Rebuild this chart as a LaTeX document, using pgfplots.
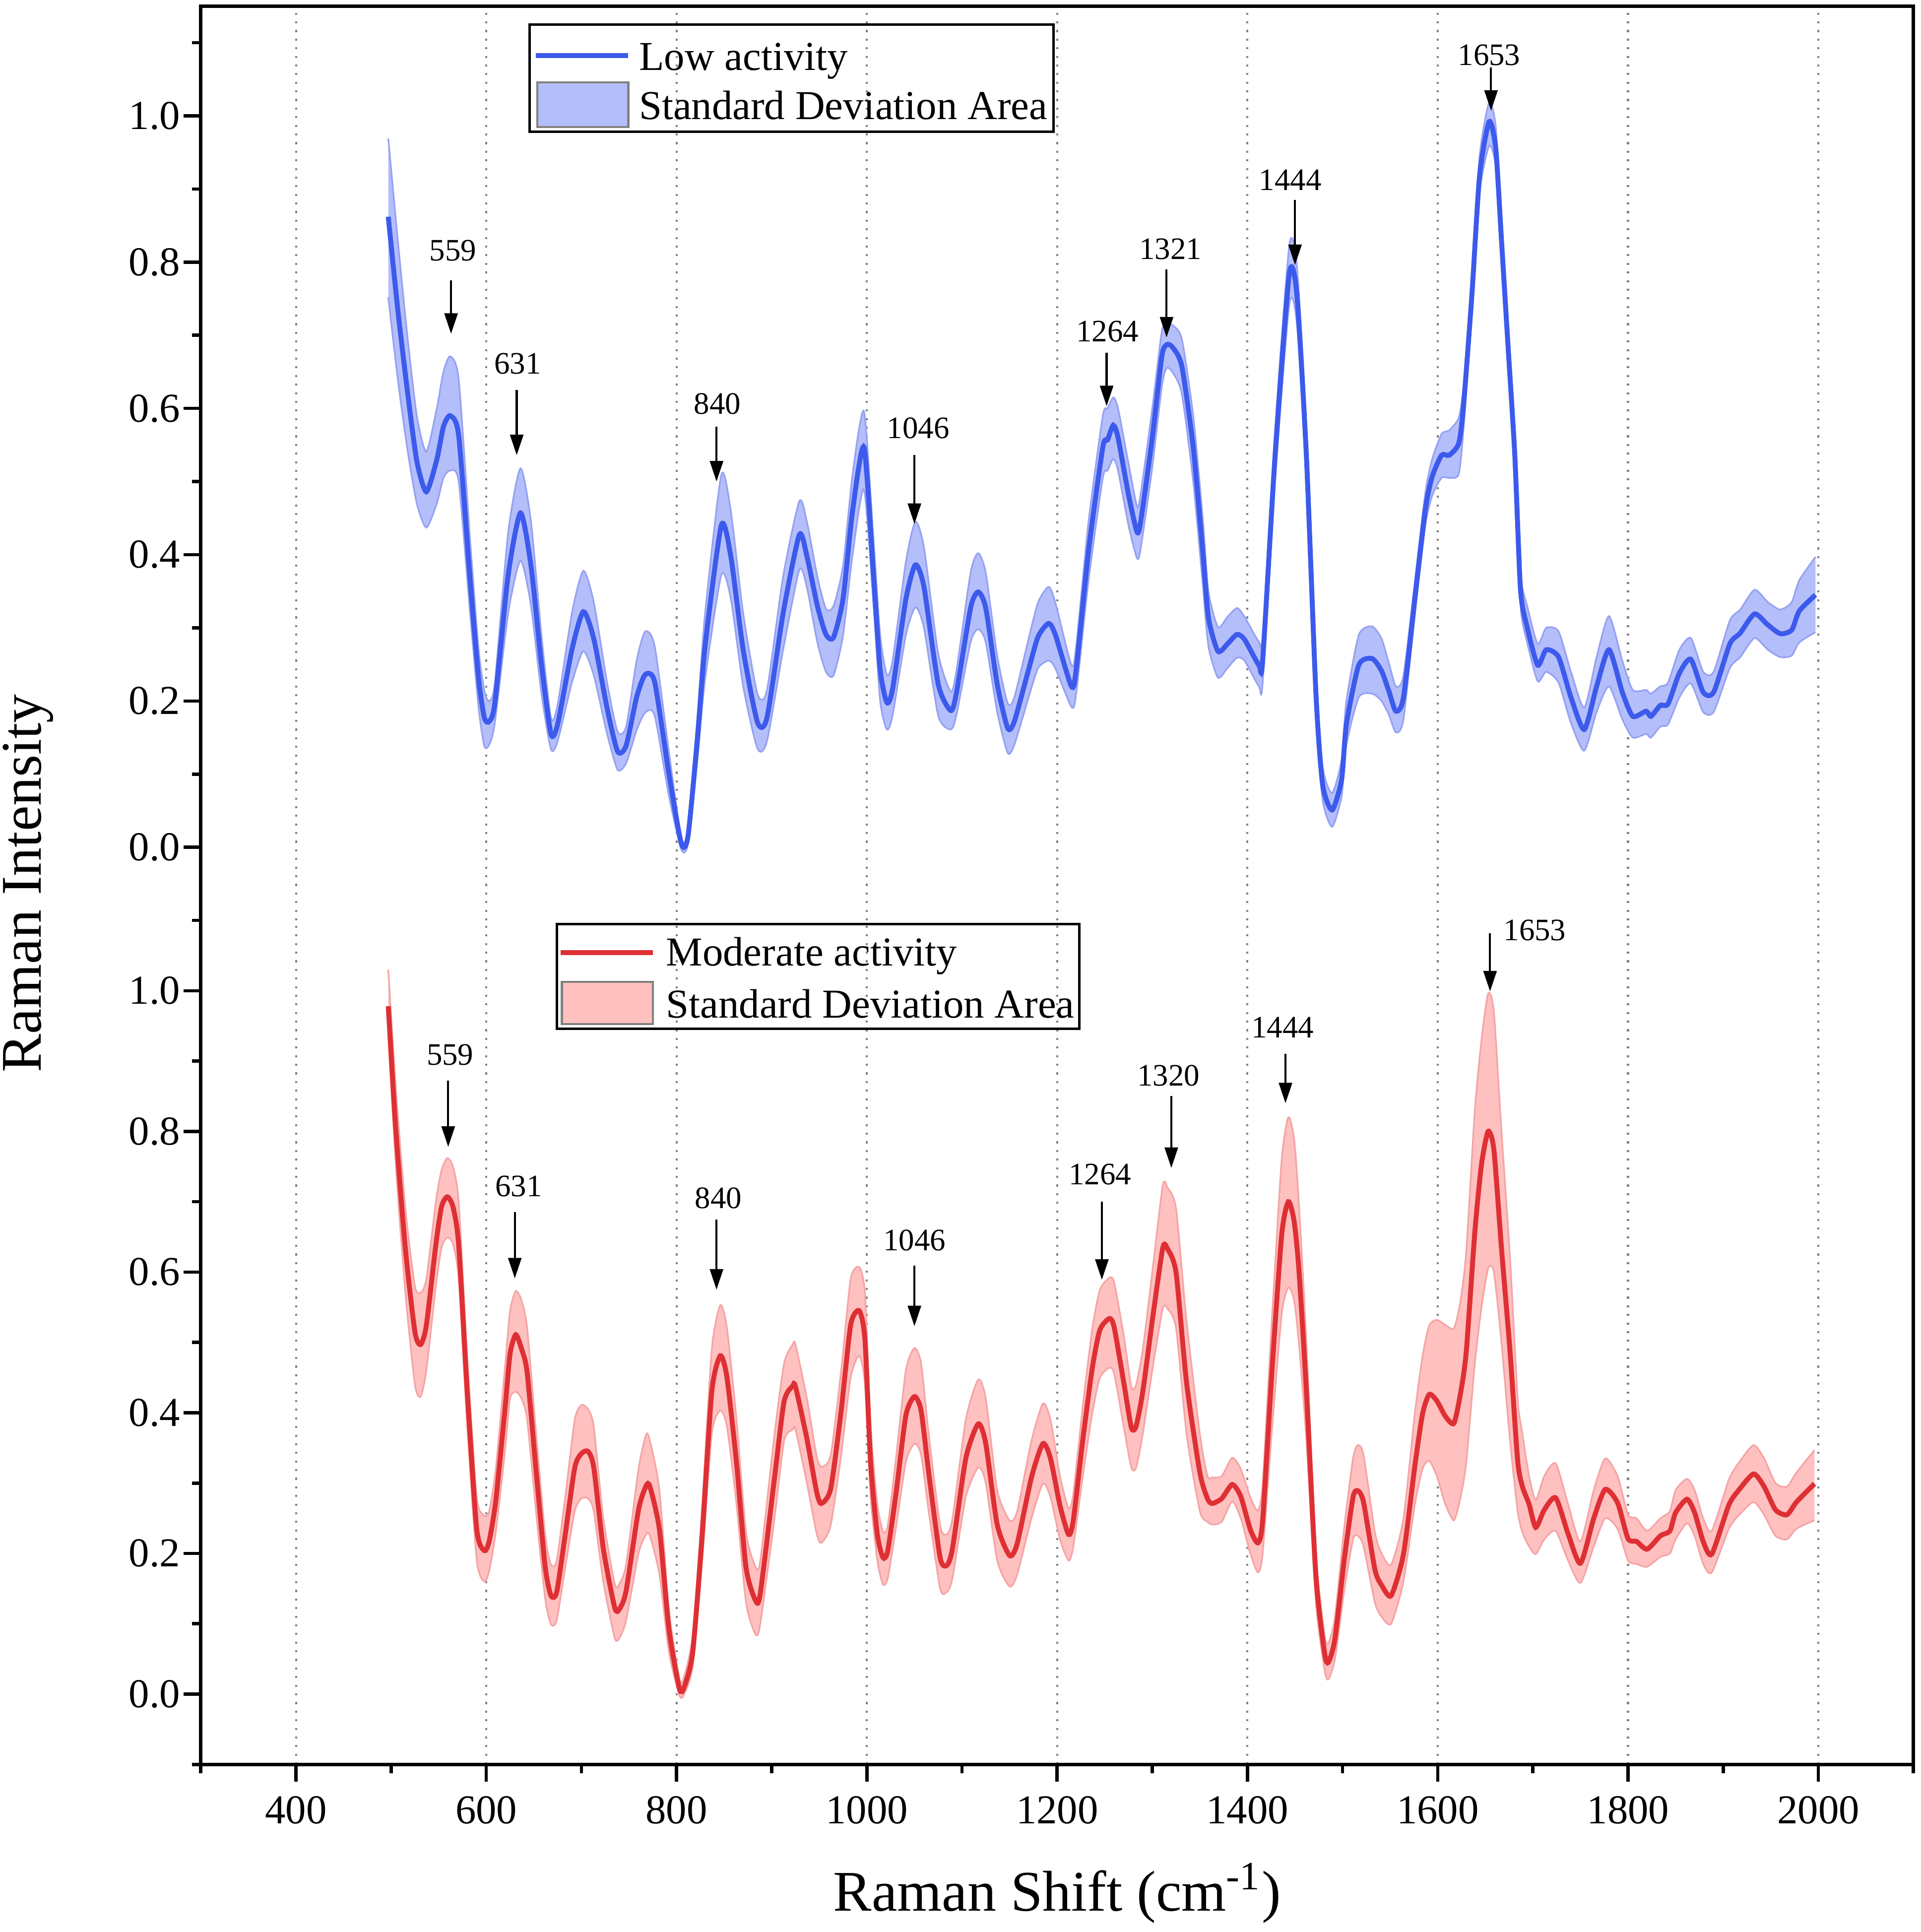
\documentclass[border=0pt]{standalone}
\usepackage{fontspec}
\setmainfont{Liberation Serif}
\usepackage{pgfplots}
\usepackage{pgfplotstable}
\pgfplotsset{compat=1.18}
\usepgfplotslibrary{fillbetween}
\usetikzlibrary{arrows.meta}

\definecolor{bline}{RGB}{60,90,235}
\definecolor{bfill}{RGB}{180,190,250}
\definecolor{bedge}{RGB}{150,162,242}
\definecolor{rline}{RGB}{222,48,52}
\definecolor{rfill}{RGB}{255,192,192}
\definecolor{redge}{RGB}{245,165,165}

\pgfplotstableread{
x y lo hi
497 0.862 0.752 0.969
507 0.735 0.640 0.830
517 0.625 0.545 0.700
527 0.528 0.470 0.590
537 0.486 0.437 0.541
548 0.530 0.470 0.600
555 0.575 0.505 0.650
562 0.590 0.515 0.671
571 0.563 0.500 0.640
583 0.366 0.320 0.420
592 0.230 0.190 0.270
598 0.177 0.138 0.214
603 0.172 0.140 0.200
609 0.197 0.170 0.225
623 0.372 0.320 0.430
636 0.457 0.392 0.518
647 0.385 0.330 0.445
658 0.250 0.210 0.290
668 0.155 0.134 0.177
675 0.168 0.145 0.195
690 0.270 0.225 0.320
702 0.322 0.268 0.378
713 0.285 0.235 0.335
727 0.190 0.155 0.225
738 0.131 0.106 0.158
747 0.139 0.115 0.165
758 0.205 0.160 0.255
767 0.236 0.184 0.295
777 0.226 0.180 0.275
792 0.100 0.070 0.130
805 0.005 -0.003 0.012
812 0.015 0.005 0.025
822 0.150 0.120 0.180
830 0.275 0.230 0.320
847 0.440 0.372 0.509
857 0.398 0.340 0.460
870 0.270 0.220 0.320
885 0.171 0.135 0.210
895 0.177 0.145 0.215
912 0.320 0.270 0.370
929 0.427 0.379 0.473
937 0.398 0.355 0.445
948 0.330 0.280 0.370
957 0.291 0.240 0.326
965 0.287 0.235 0.330
975 0.340 0.290 0.385
985 0.460 0.400 0.510
997 0.547 0.489 0.596
1007 0.372 0.330 0.420
1014 0.243 0.200 0.290
1021 0.198 0.161 0.236
1027 0.216 0.180 0.255
1041 0.339 0.290 0.390
1051 0.386 0.328 0.445
1060 0.356 0.300 0.410
1075 0.223 0.180 0.265
1088 0.187 0.161 0.213
1094 0.210 0.180 0.240
1109 0.327 0.280 0.375
1117 0.349 0.298 0.402
1125 0.327 0.280 0.375
1137 0.223 0.185 0.262
1148 0.163 0.129 0.197
1155 0.172 0.140 0.205
1170 0.243 0.205 0.285
1180 0.288 0.245 0.335
1191 0.306 0.255 0.356
1198 0.291 0.245 0.335
1215 0.220 0.192 0.249
1220 0.243 0.210 0.275
1233 0.405 0.365 0.445
1248 0.547 0.505 0.590
1253 0.557 0.515 0.600
1259 0.577 0.531 0.615
1264 0.560 0.515 0.600
1275 0.482 0.440 0.525
1284 0.431 0.395 0.466
1288 0.447 0.410 0.485
1300 0.560 0.520 0.600
1310 0.671 0.630 0.705
1315 0.687 0.655 0.716
1321 0.684 0.650 0.714
1331 0.658 0.620 0.695
1343 0.547 0.500 0.590
1353 0.405 0.360 0.450
1359 0.314 0.275 0.350
1369 0.268 0.232 0.301
1379 0.278 0.245 0.315
1389 0.291 0.259 0.327
1397 0.284 0.255 0.315
1412 0.249 0.220 0.281
1416 0.255 0.225 0.290
1429 0.534 0.500 0.570
1444 0.784 0.742 0.823
1452 0.755 0.715 0.795
1462 0.534 0.500 0.570
1472 0.210 0.185 0.235
1479 0.086 0.065 0.110
1489 0.051 0.028 0.074
1499 0.093 0.070 0.120
1504 0.168 0.140 0.200
1517 0.249 0.205 0.290
1531 0.258 0.210 0.302
1541 0.241 0.200 0.285
1549 0.212 0.180 0.250
1556 0.186 0.157 0.220
1564 0.205 0.175 0.235
1577 0.352 0.330 0.375
1587 0.462 0.440 0.485
1594 0.506 0.480 0.530
1604 0.536 0.505 0.565
1612 0.536 0.505 0.570
1622 0.552 0.510 0.587
1627 0.602 0.570 0.630
1636 0.757 0.735 0.780
1644 0.918 0.895 0.945
1654 0.992 0.959 1.018
1661 0.955 0.930 0.985
1667 0.830 0.805 0.855
1674 0.683 0.660 0.705
1681 0.536 0.515 0.560
1687 0.352 0.330 0.375
1694 0.301 0.280 0.330
1705 0.249 0.227 0.278
1714 0.270 0.240 0.300
1727 0.260 0.225 0.295
1740 0.205 0.170 0.240
1754 0.161 0.132 0.191
1767 0.220 0.185 0.260
1780 0.270 0.220 0.316
1794 0.212 0.175 0.255
1805 0.179 0.150 0.215
1819 0.186 0.155 0.215
1824 0.179 0.150 0.210
1834 0.194 0.165 0.220
1842 0.196 0.168 0.225
1854 0.238 0.205 0.270
1866 0.257 0.224 0.286
1879 0.212 0.185 0.240
1890 0.212 0.185 0.240
1907 0.278 0.245 0.310
1918 0.293 0.260 0.325
1933 0.319 0.286 0.352
1947 0.304 0.270 0.335
1960 0.292 0.260 0.325
1972 0.297 0.262 0.335
1980 0.323 0.280 0.365
1997 0.345 0.294 0.397
}\topdata

\pgfplotstableread{
x y lo hi
497 0.978 0.936 1.030
505 0.801 0.750 0.860
515 0.633 0.570 0.690
525 0.515 0.440 0.580
531 0.497 0.423 0.571
537 0.524 0.460 0.590
547 0.639 0.580 0.700
553 0.693 0.635 0.745
559 0.707 0.649 0.762
565 0.693 0.640 0.750
571 0.639 0.590 0.700
580 0.430 0.380 0.480
590 0.234 0.190 0.280
598 0.204 0.160 0.254
603 0.217 0.175 0.260
610 0.275 0.230 0.320
620 0.410 0.350 0.470
625 0.484 0.420 0.545
631 0.511 0.430 0.573
637 0.491 0.420 0.560
643 0.457 0.390 0.520
653 0.308 0.250 0.360
662 0.180 0.135 0.225
668 0.140 0.099 0.184
674 0.145 0.105 0.190
683 0.227 0.180 0.280
693 0.322 0.260 0.390
700 0.342 0.278 0.411
707 0.345 0.278 0.405
713 0.322 0.260 0.380
723 0.207 0.160 0.250
735 0.123 0.080 0.157
740 0.121 0.080 0.157
747 0.147 0.105 0.185
760 0.262 0.200 0.320
768 0.296 0.227 0.369
772 0.295 0.225 0.360
782 0.234 0.170 0.290
792 0.092 0.060 0.120
803 0.008 -0.002 0.022
808 0.010 0.000 0.025
817 0.060 0.040 0.085
827 0.227 0.190 0.270
837 0.430 0.370 0.490
846 0.481 0.403 0.553
853 0.450 0.380 0.520
863 0.329 0.270 0.390
873 0.180 0.130 0.230
883 0.133 0.085 0.181
888 0.143 0.100 0.190
903 0.308 0.250 0.370
913 0.416 0.360 0.470
922 0.438 0.376 0.497
925 0.437 0.376 0.497
937 0.363 0.300 0.420
947 0.289 0.230 0.340
952 0.271 0.215 0.323
962 0.292 0.240 0.340
973 0.403 0.340 0.460
983 0.525 0.450 0.590
992 0.545 0.481 0.607
998 0.504 0.440 0.570
1004 0.328 0.280 0.380
1011 0.227 0.190 0.270
1017 0.194 0.156 0.231
1022 0.204 0.165 0.240
1031 0.289 0.240 0.340
1041 0.396 0.330 0.460
1050 0.423 0.356 0.492
1057 0.403 0.340 0.470
1065 0.315 0.260 0.370
1077 0.194 0.150 0.240
1084 0.183 0.145 0.227
1090 0.207 0.165 0.250
1104 0.335 0.280 0.390
1117 0.384 0.322 0.447
1125 0.356 0.300 0.420
1137 0.241 0.190 0.290
1150 0.197 0.153 0.247
1158 0.214 0.170 0.260
1173 0.308 0.250 0.360
1185 0.356 0.299 0.413
1193 0.335 0.280 0.390
1203 0.268 0.220 0.310
1212 0.227 0.190 0.264
1217 0.247 0.210 0.285
1227 0.362 0.310 0.410
1237 0.464 0.400 0.520
1245 0.518 0.450 0.575
1255 0.534 0.464 0.592
1260 0.521 0.455 0.585
1270 0.443 0.380 0.510
1278 0.379 0.322 0.437
1283 0.381 0.322 0.440
1290 0.430 0.370 0.490
1300 0.531 0.460 0.600
1311 0.634 0.548 0.723
1316 0.633 0.548 0.720
1325 0.599 0.520 0.690
1336 0.443 0.370 0.530
1350 0.315 0.260 0.370
1358 0.278 0.245 0.310
1363 0.271 0.241 0.308
1373 0.278 0.245 0.310
1384 0.298 0.274 0.336
1393 0.281 0.250 0.320
1403 0.234 0.200 0.280
1411 0.215 0.173 0.261
1416 0.247 0.200 0.300
1426 0.464 0.380 0.540
1436 0.653 0.540 0.760
1443 0.700 0.578 0.820
1449 0.673 0.560 0.790
1454 0.605 0.500 0.700
1462 0.430 0.360 0.500
1472 0.167 0.130 0.200
1481 0.059 0.035 0.085
1485 0.045 0.021 0.072
1492 0.079 0.050 0.110
1502 0.194 0.150 0.240
1511 0.280 0.220 0.335
1516 0.289 0.225 0.354
1522 0.273 0.210 0.340
1534 0.177 0.130 0.230
1541 0.155 0.110 0.200
1551 0.140 0.100 0.184
1564 0.199 0.160 0.250
1576 0.325 0.270 0.400
1584 0.398 0.320 0.480
1591 0.426 0.332 0.524
1599 0.417 0.310 0.532
1608 0.395 0.270 0.525
1617 0.385 0.247 0.520
1624 0.428 0.280 0.560
1630 0.487 0.330 0.630
1639 0.657 0.470 0.830
1646 0.753 0.550 0.930
1653 0.800 0.605 0.996
1659 0.774 0.600 0.970
1667 0.634 0.500 0.800
1676 0.487 0.360 0.620
1684 0.332 0.260 0.420
1689 0.295 0.230 0.370
1696 0.270 0.210 0.310
1703 0.237 0.199 0.276
1712 0.262 0.220 0.310
1724 0.279 0.232 0.328
1737 0.228 0.190 0.270
1750 0.186 0.158 0.217
1764 0.250 0.210 0.290
1776 0.291 0.250 0.335
1789 0.272 0.235 0.310
1800 0.221 0.190 0.255
1809 0.217 0.185 0.250
1820 0.206 0.181 0.232
1834 0.225 0.195 0.250
1844 0.232 0.200 0.260
1850 0.258 0.220 0.290
1862 0.277 0.243 0.306
1870 0.258 0.225 0.290
1879 0.217 0.185 0.250
1888 0.199 0.173 0.232
1906 0.269 0.235 0.305
1917 0.291 0.255 0.330
1932 0.313 0.273 0.354
1943 0.295 0.255 0.335
1955 0.262 0.225 0.300
1967 0.255 0.220 0.295
1977 0.273 0.235 0.315
1996 0.299 0.247 0.347
}\botdata

\pgfplotsset{
  panel/.style={
    scale only axis, width=417pt,
    xmin=300, xmax=2100,
    xtick={400,600,...,2000},
    ytick={0,0.2,...,1.0},
    minor ytick={-0.1,0.1,0.3,0.5,0.7,0.9,1.1},
    ytick pos=left, tick align=outside,
    major tick length=4.2pt, minor tick length=2.1pt,
    every tick/.style={black, line width=0.8pt},
    axis line style={draw=none},
    xmajorgrids,
    major grid style={gray, line width=0.5pt, dash pattern=on 0.5pt off 1.6pt},
    clip mode=individual,
    /pgf/number format/assume math mode=true,
    /pgf/number format/1000 sep={},
    tick label style={font=\fontsize{10}{12}\selectfont},
    yticklabel style={xshift=2.7pt, /pgf/number format/.cd, fixed, fixed zerofill, precision=1},
  },
  sm/.style={smooth, tension=0.4},
}
\tikzset{
  ann/.style={-{Triangle[length=5pt,width=3.2pt]}, line width=0.5pt, black},
  annt/.style={font=\fontsize{7.6}{9}\selectfont, inner sep=0pt, black},
  legt/.style={font=\fontsize{10}{12}\selectfont, inner sep=0pt, anchor=base west},
}

\begin{document}
\begin{tikzpicture}
% ---------------- bottom panel ----------------
\begin{axis}[panel, name=bot, height=205.5pt, ymin=-0.1, ymax=1.1,
  minor xtick={300,500,...,2100}, xtick pos=bottom]
\addplot[sm, draw=none, name path=ru, forget plot] table[x=x,y=hi]{\botdata};
\addplot[sm, draw=none, name path=rl, forget plot] table[x=x,y=lo]{\botdata};
\addplot[fill=rfill, draw=none, forget plot] fill between[of=ru and rl];
\addplot[sm, redge, line width=0.4pt, forget plot] table[x=x,y=hi]{\botdata};
\addplot[sm, redge, line width=0.4pt, forget plot] table[x=x,y=lo]{\botdata};
\addplot[sm, rline, line width=1.2pt, forget plot] table[x=x,y=y]{\botdata};
% annotations
\draw[ann] (axis cs:560,0.872) -- (axis cs:560,0.778);
\node[annt] at (axis cs:562,0.909) {559};
\draw[ann] (axis cs:630,0.685) -- (axis cs:630,0.591);
\node[annt] at (axis cs:634,0.722) {631};
\draw[ann] (axis cs:842,0.675) -- (axis cs:842,0.575);
\node[annt] at (axis cs:844,0.705) {840};
\draw[ann] (axis cs:1050,0.609) -- (axis cs:1050,0.523);
\node[annt] at (axis cs:1050,0.645) {1046};
\draw[ann] (axis cs:1247,0.700) -- (axis cs:1247,0.589);
\node[annt] at (axis cs:1245,0.739) {1264};
\draw[ann] (axis cs:1320,0.850) -- (axis cs:1320,0.748);
\node[annt] at (axis cs:1317,0.879) {1320};
\draw[ann] (axis cs:1440,0.910) -- (axis cs:1440,0.840);
\node[annt] at (axis cs:1437,0.948) {1444};
\draw[ann] (axis cs:1655,1.082) -- (axis cs:1655,0.999);
\node[annt] at (axis cs:1702,1.086) {1653};
% legend
\draw[black, line width=0.6pt] (axis description cs:0.2079,0.9956) rectangle (axis description cs:0.5129,0.8715);
\draw[rline, line width=1.2pt] (axis description cs:0.2101,0.9620) -- (axis description cs:0.2640,0.9620);
\draw[fill=rfill, draw=gray, line width=0.5pt] (axis description cs:0.2108,0.9270) rectangle (axis description cs:0.2640,0.8774);
\node[legt] at (axis description cs:0.2712,0.9460) {Moderate activity};
\node[legt] at (axis description cs:0.2712,0.8847) {Standard Deviation Area};
\end{axis}
% ---------------- top panel ----------------
\begin{axis}[panel, name=top, at={(bot.north west)}, anchor=south west,
  height=222.6pt, ymin=-0.1, ymax=1.15, xticklabels={}, xtick style={draw=none}]
\addplot[sm, draw=none, name path=bu, forget plot] table[x=x,y=hi]{\topdata};
\addplot[sm, draw=none, name path=bl, forget plot] table[x=x,y=lo]{\topdata};
\addplot[fill=bfill, draw=none, forget plot] fill between[of=bu and bl];
\addplot[sm, bedge, line width=0.4pt, forget plot] table[x=x,y=hi]{\topdata};
\addplot[sm, bedge, line width=0.4pt, forget plot] table[x=x,y=lo]{\topdata};
\addplot[sm, bline, line width=1.2pt, forget plot] table[x=x,y=y]{\topdata};
% annotations
\draw[ann] (axis cs:563,0.775) -- (axis cs:563,0.702);
\node[annt] at (axis cs:565,0.816) {559};
\draw[ann] (axis cs:632,0.625) -- (axis cs:632,0.536);
\node[annt] at (axis cs:633,0.661) {631};
\draw[ann] (axis cs:842,0.575) -- (axis cs:842,0.500);
\node[annt] at (axis cs:843,0.606) {840};
\draw[ann] (axis cs:1050,0.536) -- (axis cs:1050,0.442);
\node[annt] at (axis cs:1054,0.573) {1046};
\draw[ann] (axis cs:1252,0.676) -- (axis cs:1252,0.603);
\node[annt] at (axis cs:1253,0.705) {1264};
\draw[ann] (axis cs:1315,0.790) -- (axis cs:1315,0.697);
\node[annt] at (axis cs:1319,0.818) {1321};
\draw[ann] (axis cs:1450,0.885) -- (axis cs:1450,0.796);
\node[annt] at (axis cs:1445,0.912) {1444};
\draw[ann] (axis cs:1656,1.066) -- (axis cs:1656,1.007);
\node[annt] at (axis cs:1654,1.083) {1653};
% legend
\draw[black, line width=0.6pt] (axis description cs:0.1921,0.9798) rectangle (axis description cs:0.4978,0.8625);
\draw[bline, line width=1.2pt] (axis description cs:0.1957,0.9461) -- (axis description cs:0.2496,0.9461);
\draw[fill=bfill, draw=gray, line width=0.5pt] (axis description cs:0.1964,0.9164) rectangle (axis description cs:0.2496,0.8679);
\node[legt] at (axis description cs:0.2554,0.9299) {Low activity};
\node[legt] at (axis description cs:0.2554,0.8760) {Standard Deviation Area};
\end{axis}
% outer frame
\draw[black, line width=0.8pt] (top.north west) rectangle (bot.south east);
% axis labels
\node[font=\fontsize{14}{16}\selectfont, anchor=base] at ([yshift=-35.7pt]bot.south) {Raman Shift (cm\textsuperscript{-1})};
\node[font=\fontsize{14}{16}\selectfont, rotate=90, anchor=center] at ([xshift=-42pt, yshift=-213.6pt]top.north west) {Raman Intensity};
\pgfresetboundingbox
\path ([xshift=-48.9pt,yshift=-40.8pt]bot.south west) rectangle ([xshift=1.8pt,yshift=1.5pt]top.north east);
\end{tikzpicture}
\end{document}
